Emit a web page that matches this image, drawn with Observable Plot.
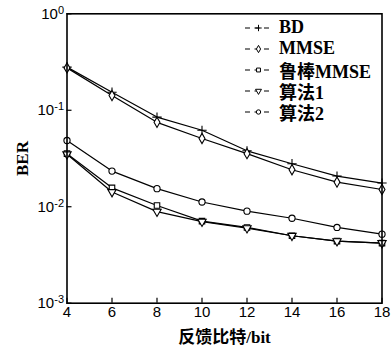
<!DOCTYPE html>
<html>
<head>
<meta charset="utf-8">
<script src="https://cdn.jsdelivr.net/npm/d3@7"></script>
<script src="https://cdn.jsdelivr.net/npm/@observablehq/plot@0.6"></script>
<style>
  body { margin: 0; background: #fff; }
  #wrap { position: relative; width: 391px; height: 346px; }
  g[aria-label="x-axis label"] text, g[aria-label="y-axis label"] text {
    font-family: "Liberation Serif", "Noto Sans CJK SC", serif;
    font-weight: bold; font-size: 17px; fill: #000;
  }
  #legend { position: absolute; left: 244px; top: 17px; font-family: "Liberation Serif", "Noto Sans CJK SC", serif; font-weight: 600; font-size: 18px; color: #000; }
  #legend .row { display: flex; align-items: center; height: 21.2px; }
  #legend svg { display: block; margin-right: 5px; }
</style>
</head>
<body>
<div id="wrap"></div>
<script>
// Data
const bits = [4, 6, 8, 10, 12, 14, 16, 18];
const seriesNames = ["BD", "MMSE", "鲁棒MMSE", "算法1", "算法2"];
const berBD     = [0.280, 0.154, 0.085, 0.062, 0.0380, 0.0279, 0.0208, 0.0176];
const berMMSE   = [0.275, 0.142, 0.075, 0.051, 0.0355, 0.0242, 0.0180, 0.0151];
const berRobust = [0.0355, 0.0157, 0.0103, 0.0071, 0.0061, 0.0050, 0.0044, 0.0042];
const berAlg1   = [0.0350, 0.0142, 0.0089, 0.0070, 0.0060, 0.0050, 0.0044, 0.0042];
const berAlg2   = [0.0486, 0.0234, 0.0154, 0.0112, 0.0090, 0.0076, 0.0061, 0.0052];
const xTicks = [4, 6, 8, 10, 12, 14, 16, 18];
const yTicks = [1e-3, 1e-2, 1e-1, 1];
const yTickLabels = ["10^-3", "10^-2", "10^-1", "10^0"];
const xLabel = "反馈比特/bit";
const yLabel = "BER";

const triangleDown = {
  draw(context, size) {
    const s3 = Math.sqrt(3);
    const y = -Math.sqrt(size / (s3 * 3));
    context.moveTo(0, -y * 2);
    context.lineTo(-s3 * y, y);
    context.lineTo(s3 * y, y);
    context.closePath();
  }
};
const symbols = ["plus", "diamond", "square", triangleDown, "circle"];
const d3Symbols = [d3.symbolPlus, d3.symbolDiamond, d3.symbolSquare, triangleDown, d3.symbolCircle];
const allSeries = [berBD, berMMSE, berRobust, berAlg1, berAlg2];

const rows = [];
allSeries.forEach((vals, i) => vals.forEach((v, j) => rows.push({series: seriesNames[i], x: bits[j], y: v, idx: i})));

const marks = [];
seriesNames.forEach((name, i) => {
  const d = rows.filter(r => r.idx === i);
  marks.push(Plot.line(d, {x: "x", y: "y", stroke: "#000", strokeWidth: 1.2}));
  marks.push(Plot.dot(d, {x: "x", y: "y", symbol: () => symbols[i], r: 3.1, stroke: "#000", fill: "#fff", strokeWidth: 1.1}));
});

const chart = Plot.plot({
  width: 391,
  height: 346,
  marginLeft: 66.5,
  marginRight: 9.5,
  marginTop: 13.3,
  marginBottom: 43.3,
  style: {fontFamily: "'Liberation Sans', Arial, sans-serif", fontSize: "15px", color: "#000", background: "#fff"},
  symbol: {type: "identity"},
  x: {domain: [4, 18]},
  y: {type: "log", domain: [1e-3, 1]},
  marks: [
    ...marks,
    Plot.axisX({ticks: xTicks, tickSize: -5, tickPadding: 8, tickFormat: d => String(d), label: xLabel, labelAnchor: "center", labelOffset: 40, strokeWidth: 1.2}),
    Plot.axisY({ticks: yTicks, tickSize: -5, tickPadding: 8, tickFormat: d => yTickLabels[yTicks.indexOf(d)] ?? "", label: yLabel, labelAnchor: "center", labelOffset: 51, strokeWidth: 1.2}),
    Plot.frame({stroke: "#000", strokeWidth: 1.6})
  ]
});

document.getElementById("wrap").appendChild(chart);

// Axis labels without the direction arrows
d3.select(chart).select('g[aria-label="x-axis label"] text').text(xLabel);
d3.select(chart).select('g[aria-label="y-axis label"] text').text(yLabel);

// Turn "10^-2" into 10 with a superscript exponent
d3.select(chart).selectAll('g[aria-label="y-axis tick label"] text').each(function() {
  const t = this.textContent;
  const m = t.match(/^10\^(.*)$/);
  if (!m) return;
  const sel = d3.select(this);
  sel.text(null);
  sel.append("tspan").text("10");
  sel.append("tspan").attr("dy", "-0.45em").attr("font-size", "11px").text(m[1]);
});

// Legend
const legend = d3.select("#wrap").append("div").attr("id", "legend");
seriesNames.forEach((name, i) => {
  const row = legend.append("div").attr("class", "row");
  const s = row.append("svg").attr("width", 30).attr("height", 12);
  s.append("line").attr("x1", 1).attr("x2", 29).attr("y1", 6).attr("y2", 6)
    .attr("stroke", "#000").attr("stroke-width", 1.1).attr("stroke-dasharray", "5,4.5");
  s.append("path").attr("transform", "translate(14.5,6)")
    .attr("d", d3.symbol(d3Symbols[i], 2.2 * 2.2 * Math.PI)())
    .attr("fill", "#fff").attr("stroke", "#000").attr("stroke-width", 1);
  row.append("span").text(name);
});
</script>
</body>
</html>
